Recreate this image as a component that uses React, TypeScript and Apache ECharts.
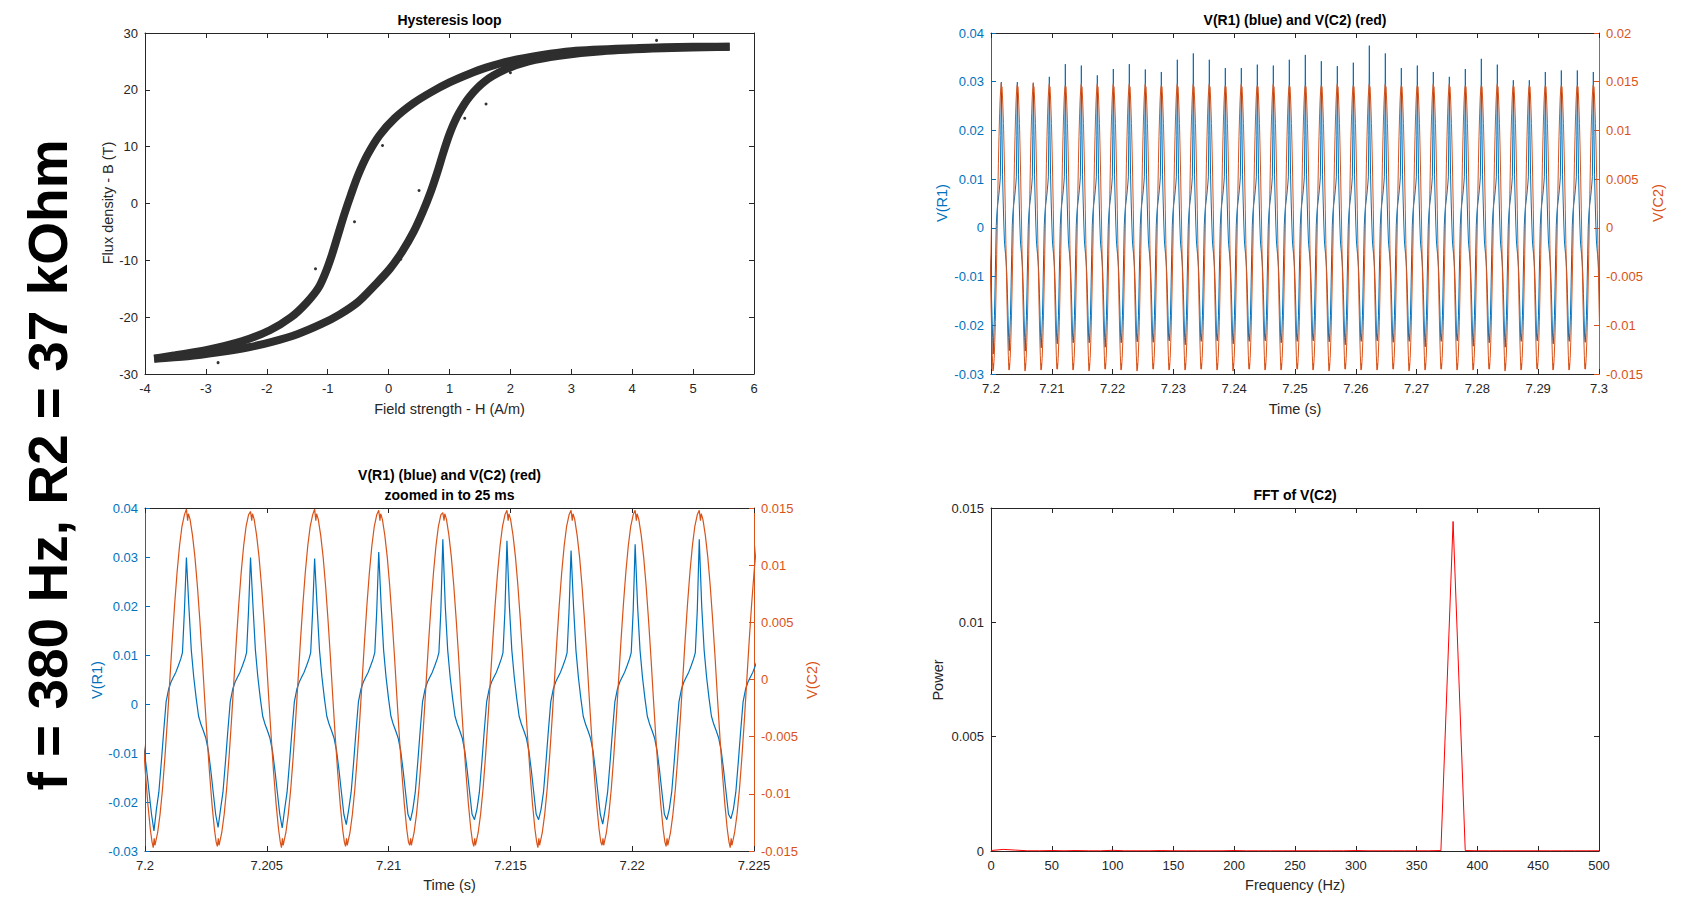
import React, { useEffect, useRef } from 'react';
import * as echarts from 'echarts';

const BLUE = '#0072BD';
const ORANGE = '#D95319';
const INK = '#262626';
const FONT = '"Liberation Sans", Arial, Helvetica, sans-serif';

// ---------- Hysteresis loop (H, B) ----------
const upperBranch: number[][] = [
  [5.6, 27.6], [5.0, 27.6], [4.0, 27.3], [3.0, 26.8], [2.5, 26.1], [2.0, 25.1], [1.6, 23.9],
  [1.3, 22.7], [1.0, 21.3], [0.7, 19.6], [0.4, 17.6], [0.1, 15.0], [-0.15, 12.0], [-0.35, 8.5],
  [-0.5, 5.0], [-0.62, 1.5], [-0.73, -2.0], [-0.83, -5.5], [-0.93, -9.0], [-1.03, -12.0],
  [-1.15, -14.8], [-1.35, -17.5], [-1.6, -20.0], [-1.95, -22.3], [-2.4, -24.2], [-3.0, -25.8],
  [-3.5, -26.7], [-3.85, -27.3],
];
const lowerBranch: number[][] = [
  [-3.85, -27.3], [-3.3, -26.9], [-2.8, -26.2], [-2.3, -25.3], [-1.9, -24.3], [-1.5, -23.0],
  [-1.1, -21.2], [-0.8, -19.5], [-0.5, -17.3], [-0.22, -14.3], [0.02, -11.5], [0.22, -8.5],
  [0.41, -5.0], [0.56, -1.5], [0.69, 2.0], [0.8, 5.5], [0.9, 9.0], [1.01, 12.5], [1.15, 15.8],
  [1.33, 18.8], [1.58, 21.5], [1.9, 23.5], [2.3, 25.0], [2.8, 26.0], [3.5, 26.8], [4.5, 27.3],
  [5.6, 27.6],
];
const outliers: number[][] = [
  [0.5, 2.3], [-0.56, -3.2], [-0.1, 10.2], [1.25, 15.0], [0.2, -9.8], [-1.2, -11.5],
  [4.4, 28.7], [1.6, 17.5], [-2.8, -28.0], [2.0, 23.0],
];

// ---------- V(R1) / V(C2) time series, read cycle by cycle ----------
const firstPeakTime = 7.2017; // s, first V(R1) peak
const cyclePeriod = 0.0026316; // s, peak-to-peak spacing
// per-cycle values, cycles -1 .. 38
const bluePeaks = [
  0.0300,
  0.0299, 0.0299, 0.0297, 0.0310, 0.0336, 0.0333, 0.0313, 0.0326, 0.0336, 0.0325,
  0.0320, 0.0345, 0.0358, 0.0345, 0.0328, 0.0328, 0.0335, 0.0333, 0.0345, 0.0355,
  0.0342, 0.0332, 0.0339, 0.0374, 0.0358, 0.0328, 0.0333, 0.0320, 0.0310, 0.0326,
  0.0347, 0.0335, 0.0303, 0.0303, 0.0320, 0.0323, 0.0323, 0.0320,
  0.0315,
];
const blueTroughs = [
  -0.0259, -0.0252, -0.0253, -0.0246, -0.0238, -0.0236, -0.0236, -0.0245, -0.0236, -0.0234,
  -0.0235, -0.0232, -0.0240, -0.0233, -0.0232, -0.0238, -0.0233, -0.0232, -0.0236, -0.0233,
  -0.0232, -0.0234, -0.0240, -0.0233, -0.0232, -0.0235, -0.0233, -0.0244, -0.0233, -0.0232,
  -0.0243, -0.0236, -0.0245, -0.0233, -0.0232, -0.0238, -0.0233, -0.0235, -0.0233, -0.0234,
];
const redPeaks = [
  0.0147,
  0.0149, 0.0147, 0.0149, 0.0148, 0.0146, 0.0148, 0.0148, 0.0148, 0.0148, 0.0148,
  0.0146, 0.0148, 0.0148, 0.0148, 0.0146, 0.0148, 0.0146, 0.0148, 0.0146, 0.0146,
  0.0146, 0.0148, 0.0146, 0.0148, 0.0148, 0.0146, 0.0146, 0.0148, 0.0148, 0.0146,
  0.0146, 0.0148, 0.0146, 0.0146, 0.0146, 0.0146, 0.0146, 0.0147,
  0.0147,
];
const redTroughs = [
  -0.0147, -0.0146, -0.0147, -0.0146, -0.0145, -0.0146, -0.0147, -0.0145, -0.0146, -0.0147,
  -0.0145, -0.0146, -0.0146, -0.0145, -0.0146, -0.0147, -0.0145, -0.0146, -0.0146, -0.0145,
  -0.0146, -0.0147, -0.0145, -0.0146, -0.0146, -0.0145, -0.0147, -0.0146, -0.0145, -0.0146,
  -0.0146, -0.0145, -0.0147, -0.0146, -0.0145, -0.0146, -0.0146, -0.0145, -0.0146, -0.0146,
];
// one cycle of each waveform, [ms after the V(R1) peak, value]; 'P' = that cycle's peak, 'T' = its trough
const blueShape: (number | string)[][] = [
  [0, 'P'], [0.1, 0.0200], [0.2, 0.0110], [0.3, 0.0055], [0.4, 0.0012], [0.5, -0.0025],
  [0.6, -0.0042], [0.7, -0.0055], [0.8, -0.0070], [0.9, -0.0095], [1.0, -0.0135], [1.1, -0.0180],
  [1.2, -0.0225], [1.3, 'T'], [1.4, -0.0215], [1.5, -0.0180], [1.6, -0.0120], [1.7, -0.0055],
  [1.8, 0.0005], [1.9, 0.0030], [2.0, 0.0045], [2.1, 0.0055], [2.2, 0.0065], [2.3, 0.0078],
  [2.4, 0.0092], [2.47, 0.0105], [2.55, 0.0190],
];
const redShape: (number | string)[][] = [
  [0, 'P'], [0.05, 0.0139], [0.08, 0.0145], [0.15, 0.0140], [0.25, 0.0126], [0.35, 0.0107],
  [0.45, 0.0082], [0.55, 0.0052], [0.65, 0.0019], [0.75, -0.0017], [0.85, -0.0051], [0.95, -0.0082],
  [1.05, -0.0109], [1.15, -0.0131], [1.22, -0.0142], [1.27, 'T'], [1.31, -0.0139], [1.34, -0.0145],
  [1.45, -0.0134], [1.55, -0.0118], [1.65, -0.0096], [1.75, -0.0068], [1.85, -0.0036],
  [1.95, -0.0001], [2.05, 0.0034], [2.15, 0.0066], [2.25, 0.0094], [2.35, 0.0117], [2.45, 0.0134],
  [2.55, 0.0144],
];

// ---------- FFT of V(C2) ----------
const fftFreq = [
  0, 10, 20, 30, 40, 50, 60, 70, 80, 90, 100, 110, 120, 130, 140, 150, 160, 170, 180, 190, 200,
  210, 220, 230, 240, 250, 260, 270, 280, 290, 300, 310, 320, 330, 340, 350, 360, 370, 380, 390,
  400, 410, 420, 430, 440, 450, 460, 470, 480, 490, 500,
];
const fftPower = [
  0.00002, 0.00007, 0.00004, 0.00001, 0.00001, 0.00002, 0.00001, 0.00002, 0.00001, 0.00001, 0.00003,
  0.00001, 0.00001, 0.00001, 0.00002, 0.00001, 0.00001, 0.00001, 0.00001, 0.00001, 0.00002,
  0.00001, 0.00001, 0.00001, 0.00001, 0.00001, 0.00001, 0.00001, 0.00001, 0.00001, 0.00002,
  0.00001, 0.00001, 0.00001, 0.00001, 0.00001, 0.00001, 0.00002, 0.01441, 0.00002,
  0.00001, 0.00001, 0.00001, 0.00001, 0.00001, 0.00001, 0.00001, 0.00001, 0.00001, 0.00001, 0.00001,
];

// ---------- tick settings ----------
const hTicks = { min: -4, max: 6, interval: 1 };
const bTicks = { min: -30, max: 30, interval: 10 };
const tWideTicks = { min: 7.2, max: 7.3, interval: 0.01 };
const tZoomTicks = { min: 7.2, max: 7.225, interval: 0.005 };
const vr1Ticks = { min: -0.03, max: 0.04, interval: 0.01 };
const vc2WideTicks = { min: -0.015, max: 0.02, interval: 0.005 };
const vc2ZoomTicks = { min: -0.015, max: 0.015, interval: 0.005 };
const fTicks = { min: 0, max: 500, interval: 50 };
const pTicks = { min: 0, max: 0.015, interval: 0.005 };

function buildWave(shape: (number | string)[][], peaks: number[], troughs: number[]) {
  const out: number[][] = [];
  for (let c = 0; c < peaks.length; c++) {
    const tp = firstPeakTime + (c - 1) * cyclePeriod;
    for (const [ms, v] of shape) {
      const val = v === 'P' ? peaks[c] : v === 'T' ? troughs[c] : (v as number);
      out.push([+(tp + (ms as number) / 1000).toFixed(6), val]);
    }
  }
  return out;
}

const blueData = buildWave(blueShape, bluePeaks, blueTroughs);
const redData = buildWave(redShape, redPeaks, redTroughs);
const fftData = fftFreq.map((f, i) => [f, fftPower[i]]);

// ---------- layout ----------
const grids = [
  { left: 145, top: 33, width: 609, height: 341 },
  { left: 991, top: 33, width: 608, height: 341 },
  { left: 145, top: 508, width: 609, height: 343 },
  { left: 991, top: 508, width: 608, height: 343 },
];

function axis(gridIndex: number, ticks: any, position: string, color: string, labels: boolean) {
  return {
    type: 'value',
    gridIndex,
    position,
    min: ticks.min,
    max: ticks.max,
    interval: ticks.interval,
    axisLine: { show: true, onZero: false, lineStyle: { color, width: 1 } },
    axisTick: { show: true, inside: true, length: 5, lineStyle: { color, width: 1 } },
    splitLine: { show: false },
    axisLabel: {
      show: labels,
      color,
      fontSize: 13,
      fontFamily: FONT,
      margin: position === 'bottom' || position === 'top' ? 8 : 7,
    },
  };
}

function txt(text: string, x: number, y: number, size: number, color: string, bold = false, rot = 0) {
  return {
    type: 'text',
    x,
    y,
    rotation: rot,
    silent: true,
    style: {
      text,
      fill: color,
      font: `${bold ? 'bold ' : ''}${size}px ${FONT}`,
      align: 'center',
      verticalAlign: 'middle',
    },
  };
}

const R = Math.PI / 2;

const option: any = {
  animation: false,
  backgroundColor: '#ffffff',
  textStyle: { fontFamily: FONT },
  grid: grids.map((g) => ({ ...g, containLabel: false })),
  xAxis: [
    axis(0, hTicks, 'bottom', INK, true),
    axis(0, hTicks, 'top', INK, false),
    axis(1, tWideTicks, 'bottom', INK, true),
    axis(1, tWideTicks, 'top', INK, false),
    axis(2, tZoomTicks, 'bottom', INK, true),
    axis(2, tZoomTicks, 'top', INK, false),
    axis(3, fTicks, 'bottom', INK, true),
    axis(3, fTicks, 'top', INK, false),
  ],
  yAxis: [
    axis(0, bTicks, 'left', INK, true),
    axis(0, bTicks, 'right', INK, false),
    axis(1, vr1Ticks, 'left', BLUE, true),
    axis(1, vc2WideTicks, 'right', ORANGE, true),
    axis(2, vr1Ticks, 'left', BLUE, true),
    axis(2, vc2ZoomTicks, 'right', ORANGE, true),
    axis(3, pTicks, 'left', INK, true),
    axis(3, pTicks, 'right', INK, false),
  ],
  series: [
    {
      type: 'line', xAxisIndex: 0, yAxisIndex: 0, data: upperBranch, showSymbol: false, smooth: 0.3,
      lineStyle: { color: '#2e2e2e', width: 8 }, itemStyle: { color: '#2e2e2e' },
    },
    {
      type: 'line', xAxisIndex: 0, yAxisIndex: 0, data: lowerBranch, showSymbol: false, smooth: 0.3,
      lineStyle: { color: '#2e2e2e', width: 8 }, itemStyle: { color: '#2e2e2e' },
    },
    {
      type: 'scatter', xAxisIndex: 0, yAxisIndex: 0, data: outliers, symbolSize: 3,
      itemStyle: { color: '#000' },
    },
    {
      type: 'line', xAxisIndex: 2, yAxisIndex: 2, data: blueData, showSymbol: false, clip: true,
      lineStyle: { color: BLUE, width: 1 }, itemStyle: { color: BLUE },
    },
    {
      type: 'line', xAxisIndex: 2, yAxisIndex: 3, data: redData, showSymbol: false, clip: true,
      lineStyle: { color: ORANGE, width: 1 }, itemStyle: { color: ORANGE },
    },
    {
      type: 'line', xAxisIndex: 4, yAxisIndex: 4, data: blueData, showSymbol: false, clip: true,
      lineStyle: { color: BLUE, width: 1.2 }, itemStyle: { color: BLUE },
    },
    {
      type: 'line', xAxisIndex: 4, yAxisIndex: 5, data: redData, showSymbol: false, clip: true,
      lineStyle: { color: ORANGE, width: 1.2 }, itemStyle: { color: ORANGE },
    },
    {
      type: 'line', xAxisIndex: 6, yAxisIndex: 6, data: fftData, showSymbol: false,
      lineStyle: { color: '#FF0000', width: 1 }, itemStyle: { color: '#FF0000' },
    },
  ],
  graphic: [
    txt('f = 380 Hz, R2 = 37 kOhm', 48, 465, 55, '#000000', true, R),
    txt('Hysteresis loop', 449.5, 20, 14, '#000000', true),
    txt('V(R1) (blue) and V(C2) (red)', 1295, 20, 14, '#000000', true),
    txt('V(R1) (blue) and V(C2) (red)', 449.5, 475, 14, '#000000', true),
    txt('zoomed in to 25 ms', 449.5, 495, 14, '#000000', true),
    txt('FFT of V(C2)', 1295, 495, 14, '#000000', true),
    txt('Field strength - H (A/m)', 449.5, 409, 14.5, INK),
    txt('Time (s)', 1295, 409, 14.5, INK),
    txt('Time (s)', 449.5, 885, 14.5, INK),
    txt('Frequency (Hz)', 1295, 885, 14.5, INK),
    txt('Flux density - B (T)', 108, 203, 14.5, INK, false, R),
    txt('V(R1)', 942, 203, 14.5, BLUE, false, R),
    txt('V(C2)', 1658, 203, 14.5, ORANGE, false, R),
    txt('V(R1)', 97, 680, 14.5, BLUE, false, R),
    txt('V(C2)', 812, 680, 14.5, ORANGE, false, R),
    txt('Power', 938, 680, 14.5, INK, false, R),
  ],
};

export default function App() {
  const ref = useRef<HTMLDivElement>(null);
  useEffect(() => {
    if (!ref.current) return;
    const chart = echarts.init(ref.current, null, { renderer: 'svg' });
    chart.setOption(option);
    return () => chart.dispose();
  }, []);
  return (
    <div
      ref={ref}
      style={{ position: 'absolute', left: 0, top: 0, width: 1694, height: 910, background: '#ffffff' }}
    />
  );
}
